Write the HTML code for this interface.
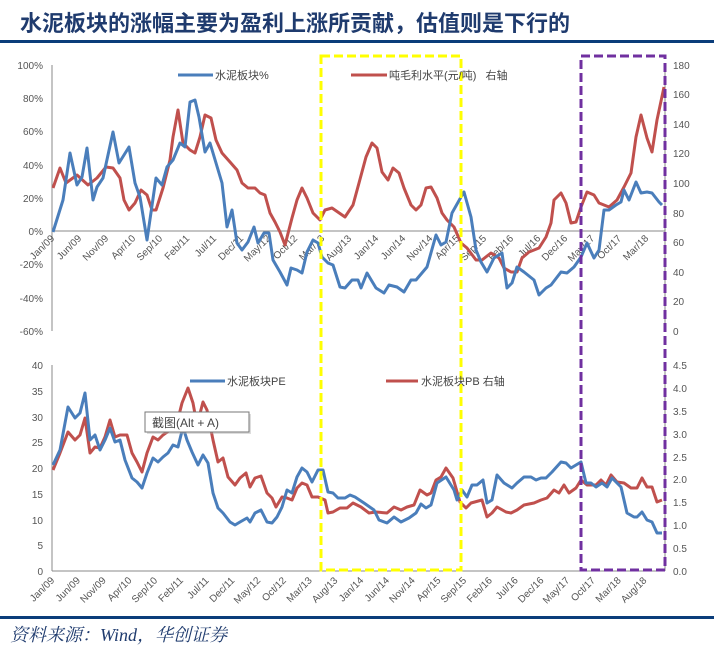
<!DOCTYPE html>
<html><head><meta charset="utf-8"><style>
body{margin:0;background:#fff;width:714px;height:650px;overflow:hidden}
svg text{font-family:"Liberation Sans","Noto Sans CJK SC",sans-serif}
</style></head><body>
<svg width="714" height="650" viewBox="0 0 714 650" xmlns="http://www.w3.org/2000/svg">
<text x="20" y="31" font-size="22" font-weight="bold" fill="#1f3b6e" style="font-family:'Noto Sans CJK SC','WenQuanYi Zen Hei',sans-serif">水泥板块的涨幅主要为盈利上涨所贡献，估值则是下行的</text>
<rect x="0" y="40" width="714" height="3" fill="#0a3d7a"/>
<rect x="0" y="616" width="714" height="3" fill="#0a3d7a"/>
<text x="10" y="641" font-size="18" font-style="italic" fill="#1f3b6e" style="font-family:'Liberation Serif','Noto Serif CJK SC',serif">资料来源：Wind，华创证券</text>

<g stroke="#888" stroke-width="1" fill="none">
<line x1="52" y1="65" x2="52" y2="331"/>
<line x1="52" y1="231" x2="665" y2="231"/>
<line x1="665" y1="65" x2="665" y2="331"/>
<line x1="52" y1="365" x2="52" y2="571"/>
<line x1="52" y1="571" x2="665" y2="571"/>
<line x1="665" y1="365" x2="665" y2="571"/>
</g>
<g font-size="10" fill="#555" text-anchor="end">
<text x="43" y="69">100%</text><text x="43" y="102">80%</text><text x="43" y="135">60%</text><text x="43" y="169">40%</text><text x="43" y="202">20%</text><text x="43" y="235">0%</text><text x="43" y="268">-20%</text><text x="43" y="302">-40%</text><text x="43" y="335">-60%</text>
<text x="43" y="369">40</text><text x="43" y="395">35</text><text x="43" y="421">30</text><text x="43" y="446">25</text><text x="43" y="472">20</text><text x="43" y="498">15</text><text x="43" y="524">10</text><text x="43" y="549">5</text><text x="43" y="575">0</text>
</g>
<g font-size="10" fill="#555">
<text x="673" y="69">180</text><text x="673" y="98">160</text><text x="673" y="128">140</text><text x="673" y="157">120</text><text x="673" y="187">100</text><text x="673" y="217">80</text><text x="673" y="246">60</text><text x="673" y="276">40</text><text x="673" y="305">20</text><text x="673" y="335">0</text>
<text x="673" y="369">4.5</text><text x="673" y="392">4.0</text><text x="673" y="415">3.5</text><text x="673" y="438">3.0</text><text x="673" y="461">2.5</text><text x="673" y="483">2.0</text><text x="673" y="506">1.5</text><text x="673" y="529">1.0</text><text x="673" y="552">0.5</text><text x="673" y="575">0.0</text>
</g>
<g font-size="10" fill="#555" text-anchor="end" id="topx"></g>
<g font-size="10" fill="#555" text-anchor="end" id="botx"></g>

<g fill="none" stroke-width="3" stroke-linejoin="round">
<polyline stroke="#c0504d" points="53,188 60,168 66,183 77,175 88,185 97,178 106,167 113,168 120,178 124,200 129,210 135,203 141,190 147,195 152,210 156,210 163,188 170,160 173,137 178,110 183,143 190,150 195,153 200,137 205,115 211,118 216,140 222,153 230,162 237,170 242,183 248,188 255,188 260,193 265,195 270,213 275,222 280,232 285,245 292,218 297,200 302,188 307,198 313,213 320,220 325,210 332,208 345,217 353,205 359,183 366,157 372,143 377,148 382,172 388,180 393,168 399,173 404,188 411,205 416,210 421,205 426,188 431,187 437,198 442,213 447,220 454,227 461,243 467,248 476,260 482,260 491,253 499,258 504,268 511,272 517,272 522,258 529,252 539,248 546,237 551,223 554,200 561,193 566,203 571,223 576,222 581,207 587,192 594,195 599,203 609,207 617,200 624,187 631,173 636,137 641,115 647,138 652,152 657,120 664,87"/>
<polyline stroke="#4a7ebb" points="53,232 63,200 70,153 77,185 82,177 87,148 93,200 97,187 103,178 113,132 119,163 129,147 135,183 140,197 147,240 156,178 162,185 167,167 173,160 180,143 185,147 190,102 195,100 199,117 205,152 210,143 222,183 227,227 232,210 237,243 242,250 248,242 254,227 258,243 264,233 269,233 273,260 280,272 287,285 291,268 297,270 302,273 307,252 313,240 318,243 322,257 328,263 333,265 340,287 345,288 352,280 358,280 361,288 367,273 376,288 384,293 389,285 397,287 404,292 411,280 416,280 427,267 436,235 441,245 446,242 452,213 461,197 464,192 471,217 476,250 481,262 487,272 494,258 502,253 507,288 512,283 517,267 524,272 534,280 539,295 546,288 551,285 561,272 567,273 574,267 581,257 587,243 594,258 599,250 604,210 609,210 616,205 621,202 624,190 629,200 636,182 641,193 647,192 652,193 659,202 662,205"/>
<polyline stroke="#c0504d" points="53,470 60,453 68,432 75,440 80,435 85,418 90,453 95,447 100,448 105,437 110,420 115,437 120,435 127,435 132,453 137,462 142,472 147,453 153,437 158,440 163,435 170,430 177,423 182,403 188,388 193,403 197,425 203,402 207,410 213,440 218,462 223,458 228,477 235,485 240,478 246,473 250,487 255,478 261,476 267,493 272,498 276,507 282,497 287,498 292,500 297,488 302,483 307,485 312,497 318,497 325,500 328,513 333,512 340,508 347,508 353,503 361,507 369,513 376,512 387,513 394,507 401,510 407,507 414,505 420,490 427,495 431,493 436,480 441,477 446,468 453,478 460,502 466,508 471,503 482,500 487,517 492,513 497,507 506,512 511,513 517,510 524,505 534,503 541,500 547,498 554,490 559,493 564,485 569,493 576,488 581,480 587,485 596,485 601,480 606,485 611,475 617,482 624,483 631,488 637,488 642,478 647,487 652,487 657,502 662,500"/>
<polyline stroke="#4a7ebb" points="53,465 60,450 68,407 75,418 80,413 85,393 90,440 95,435 100,450 105,440 110,428 115,442 120,440 125,460 132,478 137,482 142,488 147,473 153,458 158,462 163,457 168,453 173,445 178,447 183,427 187,440 192,452 198,465 203,455 208,463 213,493 218,508 223,513 230,522 235,525 240,522 247,518 250,522 255,513 261,510 267,522 272,523 277,517 282,507 287,490 292,493 297,477 302,468 307,472 312,482 318,470 323,470 328,492 333,493 338,498 345,498 350,495 355,497 364,503 374,510 379,520 387,523 394,517 401,522 409,518 416,513 421,504 426,508 431,505 437,483 446,477 454,490 457,500 462,490 467,497 472,485 477,485 483,480 487,503 492,500 497,475 504,483 512,488 517,483 524,477 531,477 536,480 541,478 546,478 552,472 561,462 566,463 571,468 581,462 586,483 591,483 596,487 602,483 607,487 612,478 621,487 627,513 634,517 637,517 642,512 647,520 652,522 657,533 662,533"/>
</g>

<rect x="321" y="56" width="140" height="514" fill="none" stroke="#ffff00" stroke-width="3" stroke-dasharray="9,4"/>
<rect x="581" y="56" width="84" height="514" fill="none" stroke="#7030a0" stroke-width="3" stroke-dasharray="9,4"/>

<g font-size="11" fill="#444">
<line x1="178" y1="75" x2="213" y2="75" stroke="#4a7ebb" stroke-width="3"/><text x="215" y="79">水泥板块%</text>
<line x1="351" y1="75" x2="387" y2="75" stroke="#c0504d" stroke-width="3"/><text x="389" y="79" xml:space="preserve">吨毛利水平(元/吨)   右轴</text>
<line x1="190" y1="381" x2="225" y2="381" stroke="#4a7ebb" stroke-width="3"/><text x="227" y="385">水泥板块PE</text>
<line x1="386" y1="381" x2="418" y2="381" stroke="#c0504d" stroke-width="3"/><text x="421" y="385">水泥板块PB 右轴</text>
</g>
<rect x="147" y="414" width="104" height="20" fill="#aaa" opacity="0.4"/>
<rect x="145" y="412" width="104" height="20" fill="#fff" stroke="#777" stroke-width="1"/>
<text x="152" y="427" font-size="12" fill="#444">截图(Alt + A)</text>
</svg>
<script>
var lab=["Jan/09","Jun/09","Nov/09","Apr/10","Sep/10","Feb/11","Jul/11","Dec/11","May/12","Oct/12","Mar/13","Aug/13","Jan/14","Jun/14","Nov/14","Apr/15","Sep/15","Feb/16","Jul/16","Dec/16","May/17","Oct/17","Mar/18","Aug/18"];
var ns="http://www.w3.org/2000/svg";
function mk(g,x,y,t){var e=document.createElementNS(ns,"text");e.setAttribute("x",x);e.setAttribute("y",y);e.setAttribute("transform","rotate(-45 "+x+" "+y+")");e.textContent=t;g.appendChild(e);}
var tg=document.getElementById("topx"),bg=document.getElementById("botx");
for(var i=0;i<23;i++){mk(tg,55+i*27,239,lab[i]);}
for(var i=0;i<24;i++){mk(bg,55+i*25.75,581,lab[i]);}
</script>
</body></html>
